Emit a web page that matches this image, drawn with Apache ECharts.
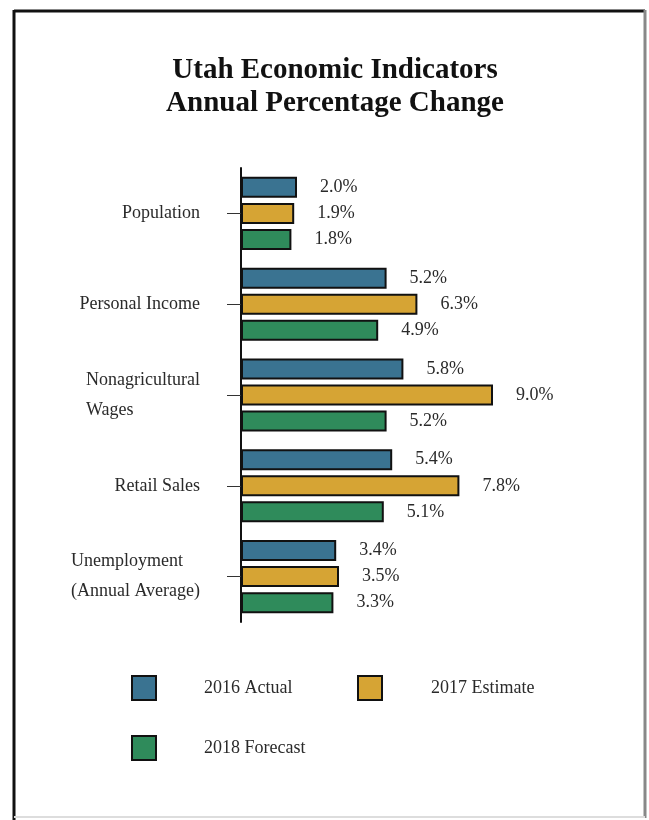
<!DOCTYPE html>
<html>
<head>
<meta charset="utf-8">
<script src="https://cdn.jsdelivr.net/npm/echarts@6/dist/echarts.min.js"></script>
<style>
  html, body { margin: 0; padding: 0; background: #ffffff; }
  #chart { width: 649px; height: 820px; }
</style>
</head>
<body>
<div id="chart"></div>
<script>
// Indicator categories, top to bottom
const categories = [
  'Population',
  'Personal Income',
  'Nonagricultural\nWages',
  'Retail Sales',
  'Unemployment\n(Annual Average)'
];
// Annual percentage change by series
const actual2016   = [2.0, 5.2, 5.8, 5.4, 3.4];
const estimate2017 = [1.9, 6.3, 9.0, 7.8, 3.5];
const forecast2018 = [1.8, 4.9, 5.2, 5.1, 3.3];
const seriesNames  = ['2016 Actual', '2017 Estimate', '2018 Forecast'];
const seriesColors = ['#3a7391', '#d6a434', '#2f8b5b'];

const serif = "'Liberation Serif', 'Times New Roman', serif";

const chart = echarts.init(document.getElementById('chart'), null, { renderer: 'canvas' });

function barSeries(name, data, color) {
  return {
    name: name,
    type: 'bar',
    data: data,
    barWidth: 21,
    barGap: '24%',
    itemStyle: { color: color, borderColor: '#111', borderWidth: 2 },
    label: {
      show: true,
      position: 'right',
      distance: 23,
      fontFamily: serif,
      fontSize: 18,
      color: '#2a2a2a',
      formatter: p => p.value.toFixed(1) + '%'
    }
  };
}

function legendAt(name, left, top, pad) {
  return {
    data: [name],
    left: left,
    top: top,
    padding: 0,
    icon: 'rect',
    itemWidth: 24,
    itemHeight: 24,
    selectedMode: false,
    textStyle: { fontFamily: serif, fontSize: 18, color: '#2a2a2a', padding: [0, 0, 0, pad] }
  };
}

chart.setOption({
  backgroundColor: '#ffffff',
  animation: false,
  title: {
    text: 'Utah Economic Indicators\nAnnual Percentage Change',
    left: 330,
    top: 49,
    textAlign: 'center',
    textStyle: { fontFamily: serif, fontWeight: 'bold', fontSize: 29, lineHeight: 33, color: '#111' }
  },
  legend: [
    legendAt(seriesNames[0], 131, 675, 43),
    legendAt(seriesNames[1], 357, 675, 44),
    legendAt(seriesNames[2], 131, 735, 43)
  ],
  grid: { left: 241, top: 168, width: 336, height: 454, containLabel: false },
  xAxis: {
    type: 'value',
    min: 0,
    max: 12,
    show: false
  },
  yAxis: {
    type: 'category',
    data: categories,
    inverse: true,
    axisLine: { show: true, lineStyle: { color: '#111', width: 2 } },
    axisTick: { show: true, alignWithLabel: true, length: 14, lineStyle: { color: '#333', width: 1 } },
    axisLabel: {
      margin: 41,
      fontFamily: serif,
      fontSize: 18,
      color: '#2a2a2a',
      lineHeight: 30,
      formatter: v => v.indexOf('\n') >= 0
        ? v.split('\n').map(s => '{l|' + s + '}').join('\n')
        : v,
      rich: {
        l: { align: 'left', fontFamily: serif, fontSize: 18, color: '#2a2a2a', lineHeight: 30 }
      }
    },
    splitLine: { show: false }
  },
  series: [
    barSeries(seriesNames[0], actual2016, seriesColors[0]),
    barSeries(seriesNames[1], estimate2017, seriesColors[1]),
    barSeries(seriesNames[2], forecast2018, seriesColors[2])
  ],
  graphic: [
    // page frame
    { type: 'line', shape: { x1: 14, y1: 11, x2: 645, y2: 11 }, style: { stroke: '#111', lineWidth: 3 } },
    { type: 'line', shape: { x1: 14, y1: 10, x2: 14, y2: 820 }, style: { stroke: '#111', lineWidth: 3 } },
    { type: 'line', shape: { x1: 645, y1: 10, x2: 645, y2: 818 }, style: { stroke: '#888', lineWidth: 3 } },
    { type: 'line', shape: { x1: 14, y1: 817, x2: 645, y2: 817 }, style: { stroke: '#ddd', lineWidth: 2 } }
  ]
});
</script>
</body>
</html>
